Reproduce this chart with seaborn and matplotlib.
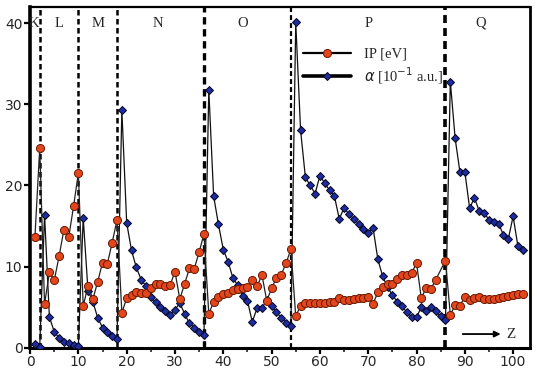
import numpy as np
import pandas as pd
import matplotlib
matplotlib.use("Agg")
import matplotlib.pyplot as plt
from matplotlib.lines import Line2D
import seaborn as sns

# first ionization potential [eV], Z = 1..102 (no value for Z = 85)
ip_z = list(range(1, 85)) + list(range(86, 103))
ip_ev = [13.60, 24.59, 5.39, 9.32, 8.30, 11.26, 14.53, 13.62, 17.42, 21.56,
         5.14, 7.65, 5.99, 8.15, 10.49, 10.36, 12.97, 15.76,
         4.34, 6.11, 6.56, 6.83, 6.75, 6.77, 7.43, 7.90, 7.88, 7.64, 7.73, 9.39,
         6.00, 7.90, 9.79, 9.75, 11.81, 14.00,
         4.18, 5.69, 6.22, 6.63, 6.76, 7.09, 7.28, 7.36, 7.46, 8.34, 7.58, 8.99,
         5.79, 7.34, 8.61, 9.01, 10.45, 12.13,
         3.89, 5.21, 5.58, 5.54, 5.47, 5.53, 5.58, 5.64, 5.67, 6.15, 5.86, 5.94,
         6.02, 6.11, 6.18, 6.25, 5.43, 6.83, 7.55, 7.86, 7.83, 8.44, 8.97, 8.96,
         9.23, 10.44, 6.11, 7.42, 7.29, 8.41, 10.75,
         4.07, 5.28, 5.17, 6.31, 5.89, 6.19, 6.27, 6.03, 5.97, 5.99, 6.20, 6.28,
         6.37, 6.50, 6.58, 6.65]

# static dipole polarizability [10^-1 a.u.], Z = 1..102
alpha_z = list(range(1, 103))
alpha = [0.45, 0.14, 16.4, 3.8, 2.0, 1.2, 0.74, 0.54, 0.38, 0.27,
         16.0, 7.0, 5.7, 3.7, 2.5, 1.9, 1.5, 1.1,
         29.3, 15.4, 12.0, 9.9, 8.4, 7.6, 6.3, 5.6, 5.0, 4.5, 4.1, 4.7,
         5.5, 4.2, 3.0, 2.5, 2.0, 1.6,
         31.8, 18.7, 15.2, 12.1, 10.6, 8.6, 7.7, 6.4, 5.8, 3.2, 4.9, 4.9,
         5.9, 5.2, 4.4, 3.7, 3.1, 2.7,
         40.1, 26.8, 21.0, 20.0, 19.0, 21.2, 20.3, 19.4, 18.7, 15.9, 17.2, 16.5,
         15.9, 15.3, 14.7, 14.2, 14.8, 10.9, 8.8, 7.5, 6.5, 5.7, 5.1, 4.4,
         3.8, 3.8, 5.0, 4.5, 5.0, 4.5, 3.9, 3.4,
         32.8, 25.8, 21.6, 21.7, 17.2, 18.5, 16.8, 16.6, 15.8, 15.5, 15.3, 13.9,
         13.4, 16.2, 12.5, 12.0]

# shell closures and shell names
shell_edges = [2, 10, 18, 36, 54, 86]
shell_names = ["K", "L", "M", "N", "O", "P", "Q"]
shell_label_z = [0.7, 6.0, 14.0, 26.5, 44.0, 70.0, 93.3]

ip_df = pd.DataFrame({"Z": ip_z, "IP": ip_ev})
alpha_df = pd.DataFrame({"Z": alpha_z, "alpha": alpha})

sns.set_style("ticks")
plt.rcParams["font.family"] = ["DejaVu Sans"]
serif = ["Liberation Serif", "DejaVu Serif"]

RED = "#e2461d"
RED_EDGE = "#6a1800"
BLUE = "#1d2c9e"
BLUE_EDGE = "#050520"

fig = plt.figure(figsize=(5.37, 3.81), dpi=100)
ax = fig.add_axes([0.056, 0.087, 0.931, 0.895])

# dashed shell boundaries
for z, lw in zip(shell_edges, [1.8, 1.8, 1.8, 2.4, 1.6, 2.6]):
    ax.axvline(z, color="black", lw=lw, ls=(0, (2.2, 1.4)), zorder=1)

sns.lineplot(data=alpha_df, x="Z", y="alpha", ax=ax, color="#111111",
             linewidth=0.9, marker="D", markersize=4.2,
             markerfacecolor=BLUE, markeredgecolor=BLUE_EDGE,
             markeredgewidth=0.7, zorder=3)
sns.lineplot(data=ip_df, x="Z", y="IP", ax=ax, color="#222222",
             linewidth=0.9, marker="o", markersize=5.8,
             markerfacecolor=RED, markeredgecolor=RED_EDGE,
             markeredgewidth=0.7, zorder=4)

ax.set_xlim(0, 103.5)
ax.set_ylim(0, 42)
ax.set_xticks(np.arange(0, 101, 10))
ax.set_xticks(np.arange(5, 101, 10), minor=True)
ax.set_yticks(np.arange(0, 41, 10))
ax.set_xlabel("")
ax.set_ylabel("")
ax.tick_params(axis="both", which="major", direction="out", length=4,
               width=1.6, labelsize=10, pad=1.5, color="black")
ax.tick_params(axis="x", which="minor", direction="out", length=3, width=1.2)

ax.spines["left"].set_linewidth(2.6)
ax.spines["bottom"].set_linewidth(2.2)
ax.spines["top"].set_linewidth(1.6)
ax.spines["right"].set_linewidth(2.0)
for s in ax.spines.values():
    s.set_color("black")

for name, z in zip(shell_names, shell_label_z):
    ax.text(z, 40.0, name, ha="center", va="center", fontsize=10.5,
            family=serif, zorder=5)

handles = [
    Line2D([], [], color="black", lw=1.6, marker="o", markersize=5.8,
           markerfacecolor=RED, markeredgecolor=RED_EDGE, markeredgewidth=0.7),
    Line2D([], [], color="black", lw=2.6, marker="D", markersize=4.2,
           markerfacecolor=BLUE, markeredgecolor=BLUE_EDGE, markeredgewidth=0.7),
]
labels = ["IP [eV]", r"$\alpha$ [10$^{-1}$ a.u.]"]
ax.legend(handles, labels, loc="upper left", bbox_to_anchor=(0.545, 0.88),
          frameon=False, handlelength=3.3, handletextpad=0.9,
          labelspacing=0.3, borderpad=0, borderaxespad=0,
          prop={"family": serif, "size": 10.5})

ax.annotate("", xy=(98.0, 1.7), xytext=(89.0, 1.7),
            arrowprops=dict(arrowstyle="-|>", color="black", lw=1.3,
                            mutation_scale=9))
ax.text(98.6, 1.7, "Z", ha="left", va="center", fontsize=11, family=serif)

fig.savefig("out.png", dpi=100)
